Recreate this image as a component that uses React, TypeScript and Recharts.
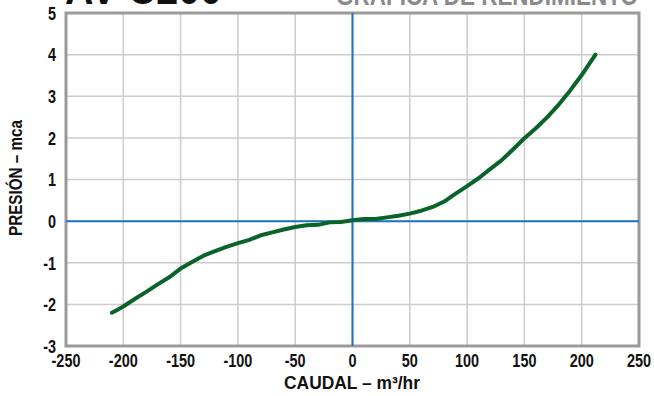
import {
	CartesianGrid,
	Line,
	LineChart,
	ReferenceArea,
	ReferenceLine,
	XAxis,
	YAxis
} from 'recharts';

const caudal = [
	-210, -205, -200, -190, -180, -170, -160, -150, -140, -130, -120, -110, -100,
	-90, -80, -70, -60, -50, -40, -30, -20, -10, 0, 10, 20, 30, 40, 50, 60, 70,
	80, 90, 100, 110, 120, 130, 140, 150, 160, 170, 180, 190, 200, 212
];
const presion = [
	-2.2, -2.13, -2.05, -1.87, -1.7, -1.52, -1.35, -1.14, -0.98, -0.83, -0.72,
	-0.62, -0.53, -0.45, -0.34, -0.27, -0.2, -0.14, -0.1, -0.09, -0.03, -0.02,
	0.02, 0.05, 0.05, 0.09, 0.13, 0.18, 0.25, 0.34, 0.47, 0.66, 0.84, 1.03, 1.25,
	1.46, 1.72, 1.99, 2.23, 2.5, 2.8, 3.14, 3.51, 4.0
];
const xTicks = [-250, -200, -150, -100, -50, 0, 50, 100, 150, 200, 250];
const yTicks = [-3, -2, -1, 0, 1, 2, 3, 4, 5];

const modelo = 'AV-C200';
const subtitulo = 'GRÁFICA DE RENDIMIENTO';
const xTitulo = 'CAUDAL – m³/hr';
const yTitulo = 'PRESIÓN – mca';

const font = '"Liberation Sans", Arial, sans-serif';

const data = caudal.map((q, i) => ({ q, p: presion[i] }));

// bold ticks squeezed sideways, the original uses a condensed face
function NarrowTick(props: any) {
	const { x, y, payload, textAnchor, vertical } = props;
	return (
		<g transform={`translate(${x},${y}) scale(0.76,1)`}>
			<text
				x={0}
				y={0}
				dy={vertical ? '0.36em' : '0.71em'}
				textAnchor={textAnchor}
				fontFamily={font}
				fontWeight={700}
				fontSize={19}
				fill="#111"
			>
				{payload.value}
			</text>
		</g>
	);
}

export default function App() {
	return (
		<div
			style={{
				position: 'fixed',
				left: 0,
				top: 0,
				width: 654,
				height: 396,
				overflow: 'hidden',
				background: '#fff'
			}}
		>
			<LineChart
				width={654}
				height={396}
				data={data}
				margin={{ top: 13, right: 15, bottom: 20, left: 26 }}
			>
				<CartesianGrid stroke="#cccccc" strokeWidth={1.5} />
				<XAxis
					dataKey="q"
					type="number"
					domain={[-250, 250]}
					ticks={xTicks}
					axisLine={false}
					tickLine={false}
					tickMargin={2}
					height={30}
					tick={<NarrowTick />}
					interval={0}
				/>
				<YAxis
					type="number"
					domain={[-3, 5]}
					ticks={yTicks}
					axisLine={false}
					tickLine={false}
					tickMargin={4}
					width={40}
					tick={<NarrowTick vertical />}
					interval={0}
				/>
				<ReferenceLine x={0} stroke="#1f72c0" strokeWidth={2} />
				<ReferenceLine y={0} stroke="#1f72c0" strokeWidth={2} />
				<ReferenceArea
					x1={-250}
					x2={250}
					y1={-3}
					y2={5}
					fill="none"
					stroke="#9a9a9a"
					strokeWidth={3}
					fillOpacity={0}
				/>
				<Line
					type="linear"
					dataKey="p"
					stroke="#0a6429"
					strokeWidth={4}
					strokeLinecap="round"
					strokeLinejoin="round"
					dot={false}
					isAnimationActive={false}
				/>
			</LineChart>
			<svg
				width={654}
				height={396}
				style={{ position: 'absolute', left: 0, top: 0, pointerEvents: 'none' }}
			>
				<text
					x={65}
					y={4}
					fontFamily={font}
					fontWeight={700}
					fontSize={44}
					fill="#111"
					textLength={157}
					lengthAdjust="spacingAndGlyphs"
				>
					{modelo}
				</text>
				<text
					x={336}
					y={4.5}
					fontFamily={font}
					fontWeight={700}
					fontSize={28}
					fill="#8a8a8a"
					textLength={302}
					lengthAdjust="spacingAndGlyphs"
				>
					{subtitulo}
				</text>
				<text
					x={352}
					y={389}
					textAnchor="middle"
					fontFamily={font}
					fontWeight={700}
					fontSize={18}
					fill="#111"
					textLength={136}
					lengthAdjust="spacingAndGlyphs"
				>
					{xTitulo}
				</text>
				<text
					x={22}
					y={178}
					textAnchor="middle"
					transform="rotate(-90 22 178)"
					fontFamily={font}
					fontWeight={700}
					fontSize={18}
					fill="#111"
					textLength={116}
					lengthAdjust="spacingAndGlyphs"
				>
					{yTitulo}
				</text>
			</svg>
		</div>
	);
}
